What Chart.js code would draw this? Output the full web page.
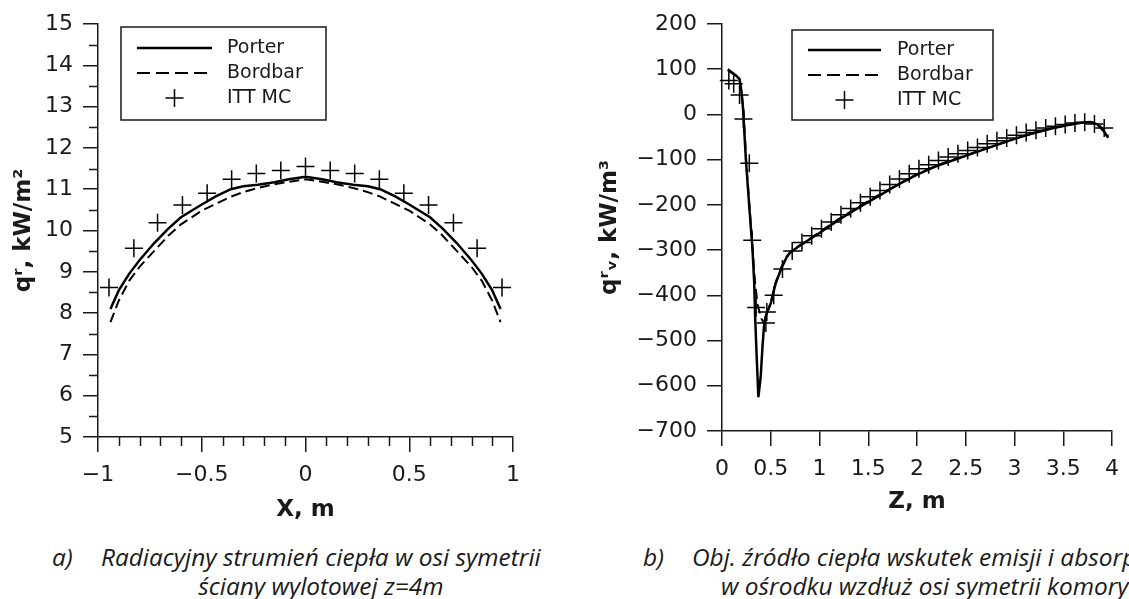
<!DOCTYPE html>
<html>
<head>
<meta charset="utf-8">
<script src="https://cdn.jsdelivr.net/npm/chart.js@4.4.1/dist/chart.umd.min.js"></script>
<style>
  html, body { margin: 0; padding: 0; background: #fff; }
  body { width: 1129px; height: 599px; overflow: hidden; position: relative; }
  canvas { position: absolute; top: 0; }
  #chartA { left: 0; }
  #chartB { left: 560px; }
  .cap { position: absolute; font-family: 'Open Sans', Lato, sans-serif; font-style: italic;
         font-size: 22px; line-height: 28px; color: #1a1a1a; white-space: nowrap; }
</style>
</head>
<body>
<canvas id="chartA" width="540" height="527"></canvas>
<canvas id="chartB" width="569" height="519"></canvas>

<div class="cap" style="left:52px; top:543px">a)</div>
<div class="cap" id="capA1" style="left:101px; top:543px">Radiacyjny strumień ciepła w osi symetrii</div>
<div class="cap" id="capA2" style="left:196px; top:572px">ściany wylotowej z=4m</div>
<div class="cap" style="left:643px; top:543px">b)</div>
<div class="cap" style="left:692px; top:543px">Obj. źródło ciepła wskutek emisji i absorpcji</div>
<div class="cap" style="left:721px; top:572px">w ośrodku wzdłuż osi symetrii komory</div>

<script>
const seriesNames = ['Porter', 'Bordbar', 'ITT MC'];

// a) radiative heat flux on the outlet wall, z = 4 m
const xPorterA = [-0.94, -0.90, -0.85, -0.80, -0.73, -0.66, -0.60, -0.50, -0.43, -0.36, -0.30, -0.23, -0.15, -0.08, 0,
                  0.08, 0.15, 0.23, 0.30, 0.36, 0.43, 0.50, 0.60, 0.66, 0.73, 0.80, 0.85, 0.90, 0.94];
const qPorterA = [8.10, 8.55, 8.95, 9.28, 9.69, 10.05, 10.32, 10.63, 10.83, 11.00, 11.07, 11.11, 11.17, 11.24, 11.30,
                  11.24, 11.17, 11.11, 11.07, 11.00, 10.83, 10.63, 10.32, 10.05, 9.69, 9.28, 8.95, 8.55, 8.10];
const xBordbarA = xPorterA;
const qBordbarA = [7.78, 8.30, 8.78, 9.12, 9.50, 9.88, 10.15, 10.48, 10.65, 10.82, 10.93, 11.03, 11.12, 11.18, 11.24,
                   11.18, 11.12, 11.03, 10.93, 10.82, 10.65, 10.48, 10.15, 9.88, 9.50, 9.12, 8.78, 8.30, 7.78];
const xMcA = [-0.947, -0.827, -0.713, -0.593, -0.474, -0.356, -0.237, -0.119, 0,
              0.119, 0.237, 0.356, 0.474, 0.593, 0.713, 0.827, 0.947];
const qMcA = [8.62, 9.57, 10.19, 10.62, 10.90, 11.24, 11.38, 11.45, 11.55,
              11.45, 11.38, 11.24, 10.90, 10.62, 10.19, 9.57, 8.62];
const xTicksA = [-1, -0.5, 0, 0.5, 1];
const yTicksA = [5, 6, 7, 8, 9, 10, 11, 12, 13, 14, 15];

// b) volumetric source along the chamber axis
const zPorterB = [0.06, 0.10, 0.14, 0.18, 0.20, 0.215, 0.245, 0.28, 0.312, 0.33, 0.34, 0.353, 0.373, 0.397, 0.413,
                  0.43, 0.447, 0.50, 0.55, 0.615, 0.665, 0.70, 0.80, 0.90, 1.00, 1.20, 1.40, 1.60, 1.80, 2.00,
                  2.20, 2.40, 2.60, 2.80, 3.00, 3.20, 3.40, 3.60, 3.70, 3.78, 3.85, 3.92, 3.96];
const qPorterB = [100, 93, 87, 78, 50, 15, -100, -205, -295, -370, -447, -521, -625, -580, -521,
                  -470, -447, -418, -374, -337, -315, -305, -290, -276, -262, -233, -206, -181, -156, -133,
                  -114, -99, -84, -69, -54, -41, -30, -21, -18, -17, -22, -38, -52];
const zBordbarB = [0.06, 0.10, 0.14, 0.18, 0.20, 0.22, 0.25, 0.285, 0.315, 0.34, 0.365, 0.40, 0.43, 0.45, 0.50,
                   0.55, 0.615, 0.665, 0.70, 0.80, 0.90, 1.00, 1.20, 1.40, 1.60, 1.80, 2.00, 2.20, 2.40, 2.60,
                   2.80, 3.00, 3.20, 3.40, 3.60, 3.70, 3.78, 3.85, 3.92, 3.96];
const qBordbarB = [98, 92, 85, 76, 48, 10, -110, -212, -300, -375, -420, -450, -462, -445, -416,
                   -372, -335, -314, -304, -289, -275, -260, -231, -204, -179, -155, -132, -113, -98, -83,
                   -68, -54, -41, -30, -21, -18, -17, -21, -34, -48];
const zMcB = [0.07, 0.12, 0.18, 0.22, 0.28, 0.31, 0.35, 0.45, 0.46, 0.53, 0.62, 0.72, 0.82, 0.92, 1.02, 1.12,
              1.22, 1.32, 1.42, 1.52, 1.62, 1.72, 1.82, 1.92, 2.02, 2.12, 2.22, 2.32, 2.42, 2.52, 2.62, 2.72,
              2.82, 2.92, 3.02, 3.12, 3.22, 3.32, 3.42, 3.52, 3.62, 3.72, 3.82, 3.92];
const qMcB = [75, 68, 43, -10, -108, -278, -427, -461, -437, -400, -342, -302, -283, -268, -253, -238,
              -222, -208, -195, -182, -168, -155, -143, -131, -120, -111, -102, -94, -87, -80, -73, -65,
              -58, -52, -46, -40, -35, -30, -26, -22, -19, -17, -21, -30];
const zTicksB = [0, 0.5, 1, 1.5, 2, 2.5, 3, 3.5, 4];
const yTicksB = [-700, -600, -500, -400, -300, -200, -100, 0, 100, 200];

const ink = '#1a1a1a';
const tickFont = { family: "'DejaVu Sans', sans-serif", size: 22 };
const titleFont = { family: "'DejaVu Sans', sans-serif", size: 23, weight: 'bold' };
const minus = v => String(v).replace('-', '\u2212');
const pts = (xs, ys) => xs.map((x, i) => ({ x: x, y: ys[i] }));

// captions: size so the first line spans like the original, second line centred under it
(function fitCaptions() {
  const a1 = document.getElementById('capA1');
  const a2 = document.getElementById('capA2');
  const size = 22 * 440 / a1.getBoundingClientRect().width;
  document.querySelectorAll('.cap').forEach(el => { el.style.fontSize = size + 'px'; });
  const mid = 101 + a1.getBoundingClientRect().width / 2;
  a2.style.left = (mid - a2.getBoundingClientRect().width / 2) + 'px';
})();

// framed legend inside the plot
const boxLegend = {
  id: 'boxLegend',
  afterDraw(chart, args, o) {
    const ctx = chart.ctx;
    ctx.save();
    ctx.strokeStyle = ink;
    ctx.lineWidth = 1.5;
    ctx.strokeRect(o.x, o.y, o.w, o.h);
    ctx.font = "19px 'DejaVu Sans'";
    ctx.fillStyle = ink;
    ctx.textBaseline = 'middle';
    chart.data.datasets.forEach((ds, i) => {
      const y = o.y + o.row0 + i * o.rowH;
      ctx.strokeStyle = '#000';
      if (ds.showLine === false) {
        const cx = (o.lx0 + o.lx1) / 2, r = 9;
        ctx.lineWidth = 1.5;
        ctx.beginPath();
        ctx.moveTo(cx - r, y); ctx.lineTo(cx + r, y);
        ctx.moveTo(cx, y - r); ctx.lineTo(cx, y + r);
        ctx.stroke();
      } else {
        ctx.lineWidth = ds.borderWidth;
        ctx.setLineDash(ds.borderDash ? [13, 6] : []);
        ctx.beginPath();
        ctx.moveTo(o.lx0, y); ctx.lineTo(o.lx1, y);
        ctx.stroke();
        ctx.setLineDash([]);
      }
      ctx.fillText(ds.label, o.tx, y);
    });
    ctx.restore();
  }
};

// short minor ticks (left chart only)
const minorTicks = {
  id: 'minorTicks',
  afterDraw(chart, args, o) {
    if (!o.on) return;
    const { ctx, chartArea: a, scales: { x, y } } = chart;
    ctx.save();
    ctx.strokeStyle = ink;
    ctx.lineWidth = 1.5;
    ctx.beginPath();
    const nx = Math.round((x.max - x.min) / o.xStep);
    for (let k = 1; k < nx; k++) {
      if (k % o.xEvery === 0) continue;
      const px = Math.round(x.getPixelForValue(x.min + k * o.xStep)) + 0.5;
      ctx.moveTo(px, a.bottom); ctx.lineTo(px, a.bottom + o.len);
    }
    const ny = Math.round((y.max - y.min) / o.yStep);
    for (let k = 1; k < ny; k++) {
      if (k % o.yEvery === 0) continue;
      const py = Math.round(y.getPixelForValue(y.min + k * o.yStep)) + 0.5;
      ctx.moveTo(a.left - o.len, py); ctx.lineTo(a.left, py);
    }
    ctx.stroke();
    ctx.restore();
  }
};

function axis(ticksArr, min, max, titleText, titlePad, fitSize, vertical) {
  return {
    type: 'linear', min: min, max: max,
    afterBuildTicks: s => { s.ticks = ticksArr.map(v => ({ value: v })); },
    afterFit: s => { if (vertical) s.width = fitSize; else s.height = fitSize; },
    grid: { display: true, drawOnChartArea: false, drawTicks: true, tickLength: 15, color: ink, lineWidth: 1.5 },
    border: { display: true, color: ink, width: 1.5 },
    ticks: { font: tickFont, color: ink, padding: 10, autoSkip: false, maxRotation: 0, callback: v => minus(v) },
    title: { display: true, text: titleText, font: titleFont, color: ink, padding: titlePad }
  };
}

function datasets(lp, lb, lm) {
  return [{
    label: seriesNames[0], data: lp, borderColor: '#000', borderWidth: 2.5,
    pointRadius: 0, tension: 0, showLine: true
  }, {
    label: seriesNames[1], data: lb, borderColor: '#000', borderWidth: 2, borderDash: [10, 5],
    pointRadius: 0, tension: 0, showLine: true
  }, {
    label: seriesNames[2], data: lm, showLine: false, pointStyle: 'cross', pointRadius: 9,
    pointBorderWidth: 1.5, pointBorderColor: '#000', borderColor: '#000', clip: false
  }];
}

new Chart(document.getElementById('chartA'), {
  type: 'scatter',
  data: { datasets: datasets(pts(xPorterA, qPorterA), pts(xBordbarA, qBordbarA), pts(xMcA, qMcA)) },
  plugins: [boxLegend, minorTicks],
  options: {
    responsive: false, animation: false, devicePixelRatio: 1,
    layout: { padding: { top: 24, right: 27, left: 0, bottom: 0 } },
    scales: {
      x: axis(xTicksA, -1, 1, 'X, m', { top: 0, bottom: 3 }, 90, false),
      y: axis(yTicksA, 5, 15, 'q\u02b3, kW/m\u00b2', { top: 10, bottom: 0 }, 98, true)
    },
    plugins: {
      legend: { display: false }, tooltip: { enabled: false },
      boxLegend: { x: 121, y: 27, w: 205, h: 93, row0: 21, rowH: 25, lx0: 137, lx1: 212, tx: 227 },
      minorTicks: { on: true, xStep: 0.1, xEvery: 5, yStep: 0.5, yEvery: 2, len: 9 }
    }
  }
});

new Chart(document.getElementById('chartB'), {
  type: 'scatter',
  data: { datasets: datasets(pts(zPorterB, qPorterB), pts(zBordbarB, qBordbarB), pts(zMcB, qMcB)) },
  plugins: [boxLegend, minorTicks],
  options: {
    responsive: false, animation: false, devicePixelRatio: 1,
    layout: { padding: { top: 24, right: 10, left: 0, bottom: 0 } },
    scales: {
      x: axis(zTicksB, 0, 4, 'Z, m', { top: 0, bottom: 3 }, 88, false),
      y: axis(yTicksB, -700, 200, 'q\u02b3\u1d65, kW/m\u00b3', { top: 36, bottom: 0 }, 162, true)
    },
    plugins: {
      legend: { display: false }, tooltip: { enabled: false },
      boxLegend: { x: 232, y: 30, w: 201, h: 90, row0: 20, rowH: 25, lx0: 248, lx1: 321, tx: 337 },
      minorTicks: { on: false }
    }
  }
});
</script>
</body>
</html>
